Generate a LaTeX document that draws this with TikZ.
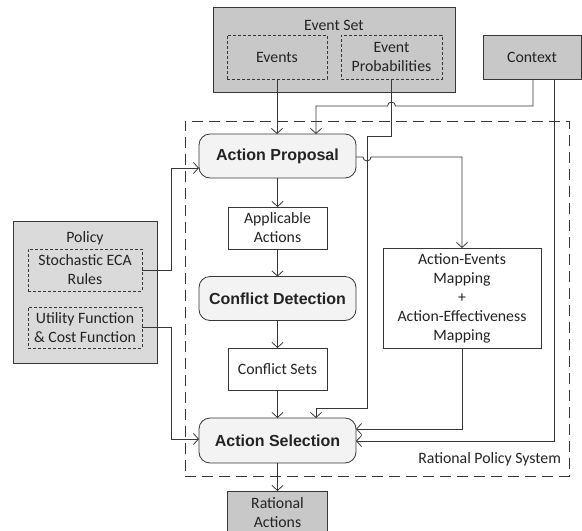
\documentclass[tikz,border=0pt]{standalone}
\usepackage{fontspec}
\setmainfont{Carlito}
\newfontfamily\arialfont{Liberation Sans}
\usetikzlibrary{arrows.meta}
\definecolor{boxgray}{RGB}{200,200,200}
\definecolor{polgray}{RGB}{218,218,218}
\definecolor{roundfill}{RGB}{243,243,243}
\definecolor{linecol}{RGB}{55,55,55}
\definecolor{txtcol}{RGB}{35,35,35}
\begin{document}
\begin{tikzpicture}[x=1pt,y=-1pt,
  every node/.style={inner sep=0pt, outer sep=0pt, text=txtcol, font=\fontsize{15.8}{19}\selectfont},
  graybox/.style={draw=linecol, fill=boxgray, line width=0.8pt},
  dbox/.style={draw=linecol, line width=0.6pt, dash pattern=on 3pt off 2pt, align=center},
  wbox/.style={draw=linecol, fill=white, line width=0.8pt, align=center},
  rbox/.style={draw=linecol, fill=roundfill, line width=0.8pt, rounded corners=11pt,
     minimum width=157pt, minimum height=44pt, font=\arialfont\bfseries\fontsize{16}{19}\selectfont},
  conn/.style={draw=linecol, line width=0.85pt},
  arr/.style={conn, -{Straight Barb[length=5pt,width=11pt,line width=0.8pt]}}
]
\useasboundingbox (0,0) rectangle (582,531);

% dashed system region
\node[draw=linecol, line width=0.8pt, dash pattern=on 11pt off 6pt, minimum width=384pt, minimum height=355pt] (rps) at (377,298.5) {};
\node[anchor=east] (rpslabel) at (561,459) {Rational Policy System};

% Event set
\node[graybox, minimum width=242pt, minimum height=85pt] (es) at (334,49.5) {};
\node (eslabel) at (334,25) {Event Set};
\node[dbox, minimum width=100pt, minimum height=44pt] (ev) at (277,57) {Events};
\node[dbox, minimum width=101pt, minimum height=44pt] (ep) at (391.5,57) {Event\\Probabilities};

% Context
\node[graybox, minimum width=98pt, minimum height=44pt] (ctx) at (532,57) {Context};

% Policy
\node[graybox, fill=polgray, minimum width=144pt, minimum height=142pt] (pol) at (85,292) {};
\node (pollabel) at (85,238) {Policy};
\node[dbox, minimum width=114pt, minimum height=42pt] (sr) at (85,270) {Stochastic ECA\\Rules};
\node[dbox, minimum width=114pt, minimum height=41pt] (uf) at (85,327.5) {Utility Function\\\& Cost Function};

% main chain
\node[rbox] (ap) at (277.5,156) {Action Proposal};
\node[wbox, minimum width=99pt, minimum height=42pt] (aa) at (277.5,228) {Applicable\\Actions};
\node[rbox] (cd) at (277.5,298.5) {Conflict Detection};
\node[wbox, minimum width=99pt, minimum height=42pt] (cs) at (277.5,369) {Conflict Sets};
\node[rbox, minimum height=45pt] (as) at (277.5,440.5) {Action Selection};
\node[graybox, minimum width=100pt, minimum height=44pt, align=center] (ra) at (277.5,513) {Rational\\Actions};

% mapping
\node[wbox, minimum width=158pt, minimum height=100pt] (aem) at (462,298) {Action-Events\\Mapping\\+\\Action-Effectiveness\\Mapping};

% connectors
\draw[arr] (ev.south) -- (ev.south |- ap.north);
\draw[arr] (ap) -- (aa);
\draw[arr] (aa) -- (cd);
\draw[arr] (cd) -- (cs);
\draw[arr] (cs) -- (as);
\draw[arr] (as) -- (ra);

\coordinate (c1) at (533,106);
\coordinate (c2) at (316,106);
\draw[arr] (c1 |- ctx.south) -- (c1) -- (395.5,106) arc[start angle=0, end angle=-180, radius=4] -- (c2) -- (c2 |- ap.north);

\coordinate (p1) at (391.5,136);
\coordinate (p2) at (367,136);
\coordinate (p3) at (367,408);
\coordinate (p4) at (316,408);
\draw[arr] (ep.south) -- (p1) -- (p2) -- (p3) -- (p4) -- (p4 |- as.north);

\coordinate (m1) at (462,157);
\draw[arr] (ap.east |- m1) -- (363,157) arc[start angle=180, end angle=0, radius=4] -- (m1) -- (aem.north);

\coordinate (x1) at (554,441);
\draw[arr] (x1 |- ctx.south) -- (x1) -- (as.east |- x1);

\coordinate (e1) at (462,429);
\draw[arr] (aem.south) -- (e1) -- (as.east |- e1);

\coordinate (s1) at (171,270);
\coordinate (s2) at (171,168);
\draw[arr] (sr.east) -- (s1) -- (s2) -- (ap.west |- s2);

\coordinate (u1) at (171,327.5);
\coordinate (u2) at (171,439);
\draw[arr] (uf.east) -- (u1) -- (u2) -- (as.west |- u2);
\end{tikzpicture}
\end{document}
